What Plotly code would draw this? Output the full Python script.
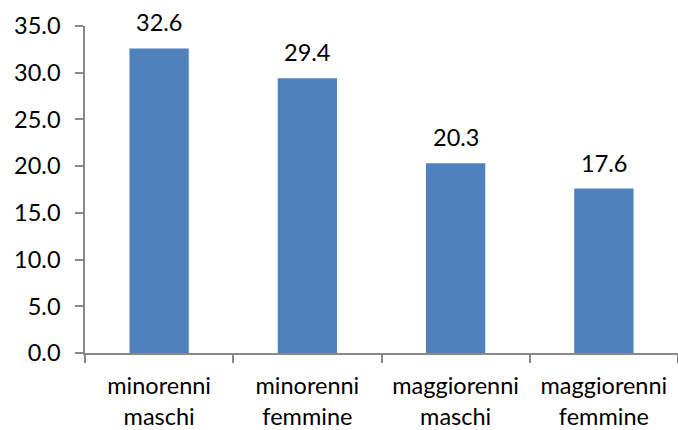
import plotly.graph_objects as go

categories = ["minorenni<br>maschi", "minorenni<br>femmine",
              "maggiorenni<br>maschi", "maggiorenni<br>femmine"]
values = [32.6, 29.4, 20.3, 17.6]
y_ticks = [0, 5, 10, 15, 20, 25, 30, 35]

FONT = "Lato"
FONT_SIZE = 23.5
BAR_COLOR = "#4F81BD"
AXIS_COLOR = "#898989"

fig = go.Figure(go.Bar(x=categories, y=values, marker_color=BAR_COLOR,
                       marker_line_width=0))

# value labels above each bar
for c, v in zip(categories, values):
    fig.add_annotation(x=c, y=v, text=f"{v:.1f}", showarrow=False,
                       yanchor="bottom", yshift=10,
                       font=dict(family=FONT, size=FONT_SIZE, color="#000000"))

fig.update_layout(
    width=678, height=430,
    margin=dict(l=85, r=0, t=26, b=77),
    plot_bgcolor="white", paper_bgcolor="white",
    bargap=0.6, showlegend=False,
    font=dict(family=FONT, size=FONT_SIZE, color="#000000"),
)
fig.update_xaxes(
    showline=True, linecolor=AXIS_COLOR, linewidth=1.5,
    ticks="outside", tickson="boundaries", ticklen=8,
    tickcolor=AXIS_COLOR, tickwidth=1.5,
    tickfont=dict(family=FONT, size=FONT_SIZE),
    showgrid=False, ticklabelstandoff=11, automargin=False,
)
fig.update_yaxes(
    range=[0, 35], tickvals=y_ticks, tickformat=".1f",
    showline=True, linecolor=AXIS_COLOR, linewidth=1.5,
    ticks="outside", ticklen=8, tickcolor=AXIS_COLOR, tickwidth=1.5,
    tickfont=dict(family=FONT, size=FONT_SIZE),
    showgrid=False, zeroline=False, ticklabelstandoff=10, automargin=False,
)

fig.write_html("out.html")
